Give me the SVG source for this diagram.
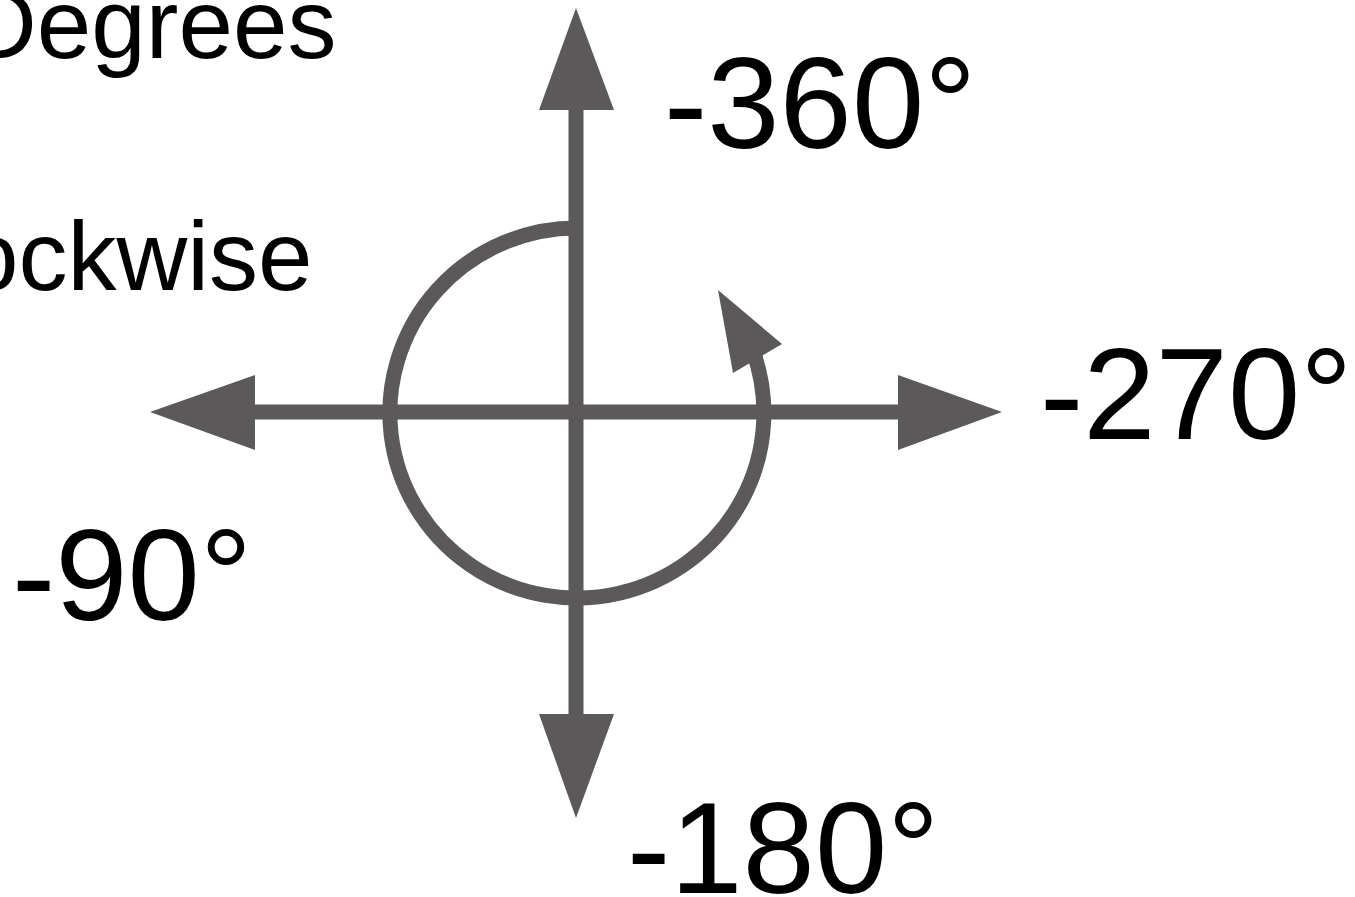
<svg xmlns="http://www.w3.org/2000/svg" width="1355" height="897" viewBox="0 0 1355 897">
  <style>
    .ax { stroke: #5b595a; stroke-width: 15; fill: none; }
    .head { fill: #5b595a; }
    .lbl { font-family: "Liberation Sans", Arial, sans-serif; fill: #000; }
  </style>
  <rect width="1355" height="897" fill="#fff"/>
  <g id="connectors">
    <line class="ax" x1="576" y1="105" x2="576" y2="720"/>
    <line class="ax" x1="250" y1="412" x2="903" y2="412"/>
    <polygon class="head" points="576,8 614,110 539,110"/>
    <polygon class="head" points="576,818 614,714 539,714"/>
    <polygon class="head" points="150,412 255,375 255,450"/>
    <polygon class="head" points="1002,412 898,375 898,450"/>
    <path class="ax" d="M 577 228 A 187 185 0 1 0 752.4 349.2"/>
    <polygon class="head" points="718,290 782,344 733,373"/>
  </g>
  <g id="label-degrees"><text class="lbl" x="-34" y="58" font-size="98">Degrees</text></g>
  <g id="label-ockwise"><text class="lbl" x="-36" y="290" font-size="98">ockwise</text></g>
  <g id="label-360"><text class="lbl" x="664" y="148" font-size="130">-360°</text></g>
  <g id="label-270"><text class="lbl" x="1040" y="439" font-size="130">-270°</text></g>
  <g id="label-180"><text class="lbl" x="627" y="893" font-size="130">-180°</text></g>
  <g id="label-90"><text class="lbl" x="12" y="620" font-size="130">-90°</text></g>
</svg>
